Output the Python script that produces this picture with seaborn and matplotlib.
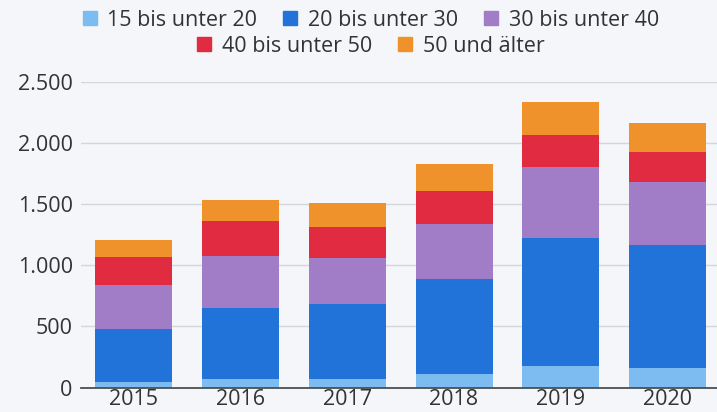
import matplotlib.pyplot as plt
import matplotlib.patches as mpatches
import numpy as np
import pandas as pd
import seaborn as sns
from matplotlib.ticker import FuncFormatter

years = ["2015", "2016", "2017", "2018", "2019", "2020"]
age_groups = ["15 bis unter 20", "20 bis unter 30", "30 bis unter 40",
              "40 bis unter 50", "50 und älter"]
age_15_20 = [49, 71, 69, 112, 178, 164]
age_20_30 = [432, 580, 611, 779, 1041, 1000]
age_30_40 = [361, 428, 383, 445, 582, 514]
age_40_50 = [229, 282, 248, 268, 265, 246]
age_50_plus = [139, 172, 197, 219, 268, 240]
colors = ["#7dbcf0", "#2273d9", "#a07dc6", "#e02b40", "#f0922b"]

series = [age_15_20, age_20_30, age_30_40, age_40_50, age_50_plus]
cum = np.cumsum(np.array(series), axis=0)
df = pd.DataFrame({"Jahr": years})
for name, vals in zip(age_groups, cum):
    df[name] = vals

bg = "#f4f6f9"
sns.set_theme(style="white")
plt.rcParams["font.family"] = ["Open Sans", "DejaVu Sans"]

fig = plt.figure(figsize=(7.17, 4.12), dpi=100, facecolor=bg)
ax = fig.add_axes([0.113, 0.059, 0.887, 0.743], facecolor=bg)

# draw cumulative totals from top segment down so each overlays the next
for name, color in reversed(list(zip(age_groups, colors))):
    sns.barplot(data=df, x="Jahr", y=name, color=color, width=0.72,
                saturation=1, linewidth=0, ax=ax, zorder=3)

ax.set_ylim(0, 2500)
ax.set_xlim(-0.49, 5.46)
ax.set_yticks([0, 500, 1000, 1500, 2000, 2500])
ax.yaxis.set_major_formatter(FuncFormatter(lambda v, p: f"{int(v):,}".replace(",", ".")))
ax.grid(axis="y", color="#d3d7dc", linewidth=1, zorder=0)
ax.set_xlabel("")
ax.set_ylabel("")
for s in ["top", "right", "left"]:
    ax.spines[s].set_visible(False)
ax.spines["bottom"].set_color("#4a4f55")
ax.spines["bottom"].set_linewidth(1.3)
ax.spines["bottom"].set_zorder(4)
ax.tick_params(axis="both", length=0, labelsize=15.5, labelcolor="#333333")
ax.tick_params(axis="x", pad=1)
ax.tick_params(axis="y", pad=6)

handles = [mpatches.Patch(color=c, label=n) for n, c in zip(age_groups, colors)]
kw = dict(frameon=False, handlelength=0.65, handleheight=0.65,
          handletextpad=0.5, columnspacing=1.2, labelcolor="#333333",
          fontsize=15.5, borderpad=0, borderaxespad=0)
fig.legend(handles=handles[:3], loc="center", bbox_to_anchor=(0.517, 0.951), ncol=3, **kw)
fig.legend(handles=handles[3:], loc="center", bbox_to_anchor=(0.517, 0.888), ncol=2, **kw)

fig.savefig("out.png", dpi=100, facecolor=bg)
